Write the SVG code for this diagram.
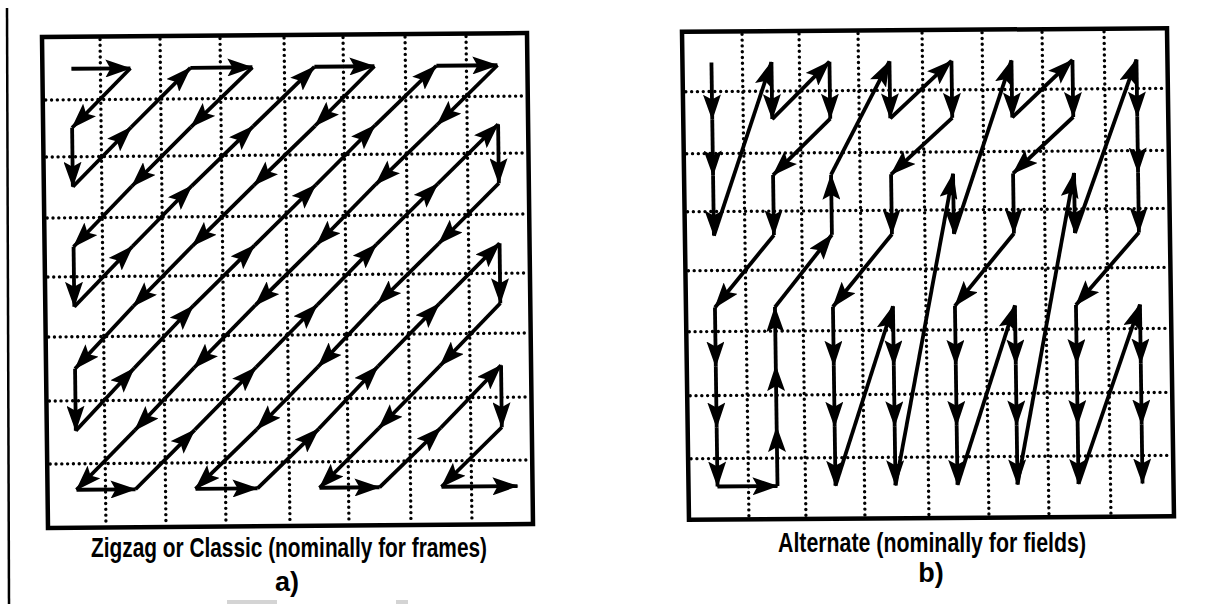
<svg xmlns="http://www.w3.org/2000/svg" width="1206" height="604" viewBox="0 0 1206 604">
<defs>
<style>
.frame{fill:none;stroke:#000;stroke-width:4.5}
.dot{fill:none;stroke:#000;stroke-width:3.4;stroke-dasharray:0 5.8;stroke-linecap:round}
.conn path{fill:none;stroke:#000;stroke-width:3.8;marker-end:url(#ah)}
.cap{font-family:"Liberation Sans Narrow","Liberation Sans",Arial,sans-serif;font-size:27px;font-weight:bold;fill:#000;text-anchor:middle}
</style>
<marker id="ah" viewBox="0 0 26 18" markerWidth="26" markerHeight="18" refX="25" refY="9" orient="auto" markerUnits="userSpaceOnUse">
<path d="M0,0 L26,9 L0,18 L5,9 z" fill="#000"/>
</marker>
</defs>
<rect width="1206" height="604" fill="#fff"/>
<path d="M7 8L9 604" stroke="#000" stroke-width="2.5" fill="none"/>
<rect x="227" y="600" width="50" height="4" fill="#d4d4d4"/>
<rect x="396" y="600" width="12" height="4" fill="#d4d4d4"/>

<g id="panel-a" transform="matrix(1 -0.00825 0.0122 1 -0.45 0.35)">
<g id="grid-a">
<path class="dot" d="M100 40V526M160 40V526M220 40V526M284 40V526M343 40V526M405 40V526M466 40V526"/>
<path class="dot" d="M45 100H525M45 157H525M45 218H525M45 277H525M45 337H525M45 401H525M45 464H525"/>
<rect class="frame" x="42" y="37" width="485" height="491"/>
</g>
<g id="connectors-a" class="conn">
<path d="M71 69L130 69"/><path d="M130 69L71 128"/><path d="M71 128L71 187"/><path d="M71 187L130 128"/>
<path d="M130 128L190 69"/><path d="M190 69L252 69"/><path d="M252 69L190 128"/><path d="M190 128L130 187"/>
<path d="M130 187L71 247"/><path d="M71 247L71 307"/><path d="M71 307L130 247"/><path d="M130 247L190 187"/>
<path d="M190 187L252 128"/><path d="M252 128L314 69"/><path d="M314 69L374 69"/><path d="M374 69L314 128"/>
<path d="M314 128L252 187"/><path d="M252 187L190 247"/><path d="M190 247L130 307"/><path d="M130 307L71 369"/>
<path d="M71 369L71 431"/><path d="M71 431L130 369"/><path d="M130 369L190 307"/><path d="M190 307L252 247"/>
<path d="M252 247L314 187"/><path d="M314 187L374 128"/><path d="M374 128L436 69"/><path d="M436 69L497 69"/>
<path d="M497 69L436 128"/><path d="M436 128L374 187"/><path d="M374 187L314 247"/><path d="M314 247L252 307"/>
<path d="M252 307L190 369"/><path d="M190 369L130 431"/><path d="M130 431L71 490"/><path d="M71 490L130 490"/>
<path d="M130 490L190 431"/><path d="M190 431L252 369"/><path d="M252 369L314 307"/><path d="M314 307L374 247"/>
<path d="M374 247L436 187"/><path d="M436 187L497 128"/><path d="M497 128L497 187"/><path d="M497 187L436 247"/>
<path d="M436 247L374 307"/><path d="M374 307L314 369"/><path d="M314 369L252 431"/><path d="M252 431L190 490"/>
<path d="M190 490L252 490"/><path d="M252 490L314 431"/><path d="M314 431L374 369"/><path d="M374 369L436 307"/>
<path d="M436 307L497 247"/><path d="M497 247L497 307"/><path d="M497 307L436 369"/><path d="M436 369L374 431"/>
<path d="M374 431L314 490"/><path d="M314 490L374 490"/><path d="M374 490L436 431"/><path d="M436 431L497 369"/>
<path d="M497 369L497 431"/><path d="M497 431L436 490"/><path d="M436 490L512 490"/>
</g>
</g>

<g id="panel-b" transform="matrix(1 -0.007 0.0143 1 -0.43 6.5)">
<g id="grid-b">
<path class="dot" d="M742 33V516M799 33V516M858 33V516M922 33V516M982 33V516M1042 33V516M1104 33V516"/>
<path class="dot" d="M685 90H1165M685 152H1165M685 210H1165M685 269H1165M685 330H1165M685 394H1165M685 457H1165"/>
<rect class="frame" x="682" y="30" width="485" height="488"/>
</g>
<g id="connectors-b" class="conn">
<path d="M711 61L711 118"/><path d="M711 118L711 174"/><path d="M711 174L711 234"/><path d="M711 234L771 61"/>
<path d="M771 61L771 118"/><path d="M771 118L829 61"/><path d="M829 61L829 118"/><path d="M829 118L771 174"/>
<path d="M771 174L771 234"/><path d="M771 234L711 306"/><path d="M711 306L711 365"/><path d="M711 365L711 426"/>
<path d="M711 426L711 485"/><path d="M711 485L771 485"/><path d="M771 485L771 426"/><path d="M771 426L771 365"/>
<path d="M771 365L771 306"/><path d="M771 306L829 234"/><path d="M829 234L829 174"/><path d="M829 174L889 61"/>
<path d="M889 61L889 118"/><path d="M889 118L951 61"/><path d="M951 61L951 118"/><path d="M951 118L889 174"/>
<path d="M889 174L889 234"/><path d="M889 234L829 306"/><path d="M829 306L829 365"/><path d="M829 365L829 426"/>
<path d="M829 426L829 485"/><path d="M829 485L889 306"/><path d="M889 306L889 365"/><path d="M889 365L889 426"/>
<path d="M889 426L889 485"/><path d="M889 485L951 174"/><path d="M951 174L951 234"/><path d="M951 234L1011 61"/>
<path d="M1011 61L1011 118"/><path d="M1011 118L1072 61"/><path d="M1072 61L1072 118"/><path d="M1072 118L1011 174"/>
<path d="M1011 174L1011 234"/><path d="M1011 234L951 306"/><path d="M951 306L951 365"/><path d="M951 365L951 426"/>
<path d="M951 426L951 485"/><path d="M951 485L1011 306"/><path d="M1011 306L1011 365"/><path d="M1011 365L1011 426"/>
<path d="M1011 426L1011 485"/><path d="M1011 485L1072 174"/><path d="M1072 174L1072 234"/><path d="M1072 234L1136 61"/>
<path d="M1136 61L1136 118"/><path d="M1136 118L1136 174"/><path d="M1136 174L1136 234"/><path d="M1136 234L1072 306"/>
<path d="M1072 306L1072 365"/><path d="M1072 365L1072 426"/><path d="M1072 426L1072 485"/><path d="M1072 485L1136 306"/>
<path d="M1136 306L1136 365"/><path d="M1136 365L1136 426"/><path d="M1136 426L1136 485"/>
</g>
</g>

<g id="caption-a">
<text class="cap" x="289" y="557" textLength="396" lengthAdjust="spacingAndGlyphs">Zigzag or Classic (nominally for frames)</text>
<text class="cap" x="287" y="591">a)</text>
</g>
<g id="caption-b">
<text class="cap" x="932" y="552" textLength="308" lengthAdjust="spacingAndGlyphs">Alternate (nominally for fields)</text>
<text class="cap" x="931" y="582">b)</text>
</g>
</svg>
